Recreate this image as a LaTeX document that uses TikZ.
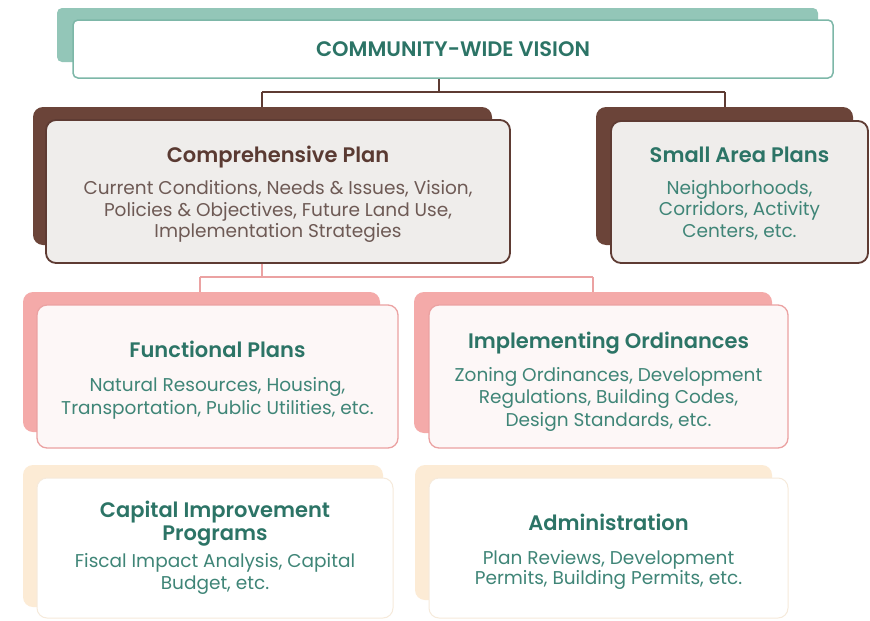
\documentclass[tikz,border=0pt]{standalone}
\usepackage{fontspec}
\setmainfont{Poppins}[BoldFont={Poppins SemiBold}]
\definecolor{tealdark}{HTML}{2C7466}
\definecolor{tealbody}{HTML}{3F8577}
\definecolor{tealshadow}{HTML}{93C6B8}
\definecolor{tealborder}{HTML}{7DB7A8}
\definecolor{brownline}{HTML}{5E3B33}
\definecolor{brownshadow}{HTML}{6B4439}
\definecolor{browntitle}{HTML}{5A3A32}
\definecolor{brownbody}{HTML}{6E5A55}
\definecolor{greyfill}{HTML}{EFEDEB}
\definecolor{pinkline}{HTML}{EBA2A2}
\definecolor{pinkshadow}{HTML}{F4AAA9}
\definecolor{pinkfill}{HTML}{FDF7F7}
\definecolor{peachshadow}{HTML}{FCEBD5}
\definecolor{peachborder}{HTML}{F6EADB}
\tikzset{
  boxbase/.style={rectangle, rounded corners=10pt, inner sep=0pt},
  txt/.style={inner sep=0pt, align=center, text=tealbody},
  visionshadow/.style={boxbase, rounded corners=5pt, fill=tealshadow},
  visionbox/.style={boxbase, rounded corners=5pt, fill=white, draw=tealborder, line width=1.5pt},
  brownshade/.style={boxbase, fill=brownshadow},
  brownbox/.style={boxbase, fill=greyfill, draw=brownline, line width=1.8pt},
  pinkshade/.style={boxbase, fill=pinkshadow},
  pinkbox/.style={boxbase, fill=pinkfill, draw=pinkline, line width=1.3pt},
  peachshade/.style={boxbase, fill=peachshadow},
  peachbox/.style={boxbase, fill=white, draw=peachborder, line width=1pt},
  brownconn/.style={draw=brownline, line width=1.5pt},
  pinkconn/.style={draw=pinkline, line width=1.5pt},
}
\newcommand{\ttl}[2]{{\fontsize{21}{23}\selectfont\bfseries\color{#1}#2}}
\newcommand{\bodyfont}[1]{\fontsize{18.5}{#1}\selectfont}
\begin{document}
\begin{tikzpicture}[x=1pt,y=-1pt]
\useasboundingbox (0,0) rectangle (870,621);
\fill[white] (0,0) rectangle (870,621);

% Vision
\node[visionshadow, minimum width=761pt, minimum height=54pt] (visionS) at (437.5,35) {};
\node[visionbox, minimum width=760pt, minimum height=58pt] (vision) at (453,49) {};
\node[txt] (visionT) at (vision.center) {\ttl{tealdark}{COMMUNITY-WIDE VISION}};

% Comprehensive plan
\node[brownshade, minimum width=459pt, minimum height=138pt] (compS) at (262.5,176) {};
\node[brownbox, minimum width=464pt, minimum height=143pt] (comp) at (278,191.5) {};
\node[txt, text=brownbody, font=\bodyfont{21.5}] (compT) at ([yshift=-3pt]comp.center)
  {\ttl{browntitle}{Comprehensive Plan}\\[10.5pt]
   Current Conditions, Needs \& Issues, Vision,\\
   Policies \& Objectives, Future Land Use,\\
   Implementation Strategies};

% Small area plans
\node[brownshade, minimum width=257pt, minimum height=138pt] (smallS) at (724.5,176) {};
\node[brownbox, minimum width=257pt, minimum height=142pt] (small) at (739.5,192) {};
\node[txt, font=\bodyfont{21.5}] (smallT) at ([yshift=-1.5pt]small.center)
  {\ttl{tealdark}{Small Area Plans}\\[10.5pt]
   Neighborhoods,\\ Corridors, Activity\\ Centers, etc.};

% Functional plans
\node[pinkshade, minimum width=357pt, minimum height=140pt] (funcS) at (201.5,362) {};
\node[pinkbox, minimum width=361pt, minimum height=143pt] (func) at (217.5,376.5) {};
\node[txt, font=\bodyfont{23}] (funcT) at ([yshift=-3.5pt]func.center)
  {\ttl{tealdark}{Functional Plans}\\[11pt]
   Natural Resources, Housing,\\ Transportation, Public Utilities, etc.};

% Implementing ordinances
\node[pinkshade, minimum width=358pt, minimum height=141pt] (implS) at (593,362.5) {};
\node[pinkbox, minimum width=359pt, minimum height=143pt] (impl) at (608.5,376.5) {};
\node[txt, font=\bodyfont{22.5}] (implT) at ([yshift=-5pt]impl.center)
  {\ttl{tealdark}{Implementing Ordinances}\\[10.5pt]
   Zoning Ordinances, Development\\ Regulations, Building Codes,\\ Design Standards, etc.};

% Capital improvement programs
\node[peachshade, minimum width=360pt, minimum height=142pt] (capS) at (203,536) {};
\node[peachbox, minimum width=356pt, minimum height=140pt] (cap) at (215,548) {};
\node[txt, font=\bodyfont{22}] (capT) at (cap.center)
  {\ttl{tealdark}{Capital Improvement}\\[1pt]
   \ttl{tealdark}{Programs}\\[5pt]
   Fiscal Impact Analysis, Capital\\ Budget, etc.};

% Administration
\node[peachshade, minimum width=357pt, minimum height=135pt] (adminS) at (593.5,532.5) {};
\node[peachbox, minimum width=359pt, minimum height=140pt] (admin) at (608.5,548) {};
\node[txt, font=\bodyfont{20.5}] (adminT) at ([yshift=-4pt]admin.center)
  {\ttl{tealdark}{Administration}\\[13.5pt]
   Plan Reviews, Development\\ Permits, Building Permits, etc.};

% Connectors
\coordinate (c0) at (439,92);
\coordinate (c1) at (262,92);
\coordinate (c2) at (725,92);
\draw[brownconn] (vision.south -| c0) -- (c0);
\draw[brownconn] (c1) -- (c2);
\draw[brownconn] (c1) -- (compS.north -| c1);
\draw[brownconn] (c2) -- (smallS.north -| c2);

\coordinate (p0) at (262,277);
\coordinate (p1) at (200,277);
\coordinate (p2) at (593,277);
\draw[pinkconn] (comp.south -| p0) -- (p0);
\draw[pinkconn] (p1) -- (p2);
\draw[pinkconn] (p1) -- (funcS.north -| p1);
\draw[pinkconn] (p2) -- (implS.north -| p2);
\end{tikzpicture}
\end{document}
